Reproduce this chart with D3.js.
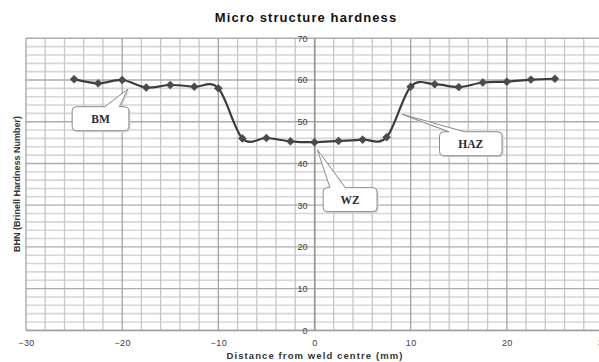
<!DOCTYPE html>
<html>
<head>
<meta charset="utf-8">
<script src="https://cdn.jsdelivr.net/npm/d3@7"></script>
<style>
  html, body { margin: 0; padding: 0; background: #fff; }
  svg { display: block; }
</style>
</head>
<body>
<svg id="chart" width="599" height="362"></svg>
<script>
// Distance from weld centre (mm) for each hardness reading
const distances = [-25, -22.5, -20, -17.5, -15, -12.5, -10, -7.5, -5, -2.5, 0,
                   2.5, 5, 7.5, 10, 12.5, 15, 17.5, 20, 22.5, 25];
// Brinell hardness number at each distance
const hardness = [60.2, 59.2, 60.0, 58.2, 58.8, 58.4, 58.0, 46.0, 46.1, 45.3, 45.1,
                  45.4, 45.7, 46.3, 58.4, 59.0, 58.3, 59.4, 59.6, 60.1, 60.3];

const xTicks = [-30, -20, -10, 0, 10, 20, 30];
const yTicks = [0, 10, 20, 30, 40, 50, 60, 70];

// Zone callouts: tip points at the curve, box placed in data units
const zoneLabels = ["BM", "HAZ", "WZ"];
const zoneTipX = [-19.4, 9.1, 0.3];
const zoneTipY = [57.8, 51.8, 43.3];
const zoneBoxX = [-25.2, 13.0, 0.9];   // left edge
const zoneBoxY = [53.6, 47.6, 34.2];   // top edge
const zoneBoxW = [5.9, 6.5, 5.6];      // width in mm
const zoneWedge = [[-21.8, -20.3], [14.0, 15.6], [1.6, 3.2]];

const FONT = "Arial, 'Liberation Sans', sans-serif";
const svg = d3.select("#chart");
const x = d3.scaleLinear().domain([-30, 30]).range([26, 603]);
const y = d3.scaleLinear().domain([0, 70]).range([330.3, 38.3]);

// Grid: minor every 2 units, major every 10
const g = svg.append("g");
const minorX = d3.range(-30, 31, 2).filter(v => v % 10 !== 0);
const minorY = d3.range(0, 71, 2).filter(v => v % 10 !== 0);
g.selectAll(".my").data(minorY).join("line")
  .attr("y1", d => y(d)).attr("y2", d => y(d))
  .attr("x1", x(-30)).attr("x2", x(30))
  .attr("stroke", "#d6d6d6").attr("stroke-width", 1.6);
g.selectAll(".mx").data(minorX).join("line")
  .attr("x1", d => x(d)).attr("x2", d => x(d))
  .attr("y1", y(0)).attr("y2", y(70))
  .attr("stroke", "#c6c6c6").attr("stroke-width", 1.3);
g.selectAll(".My").data(yTicks).join("line")
  .attr("y1", d => y(d)).attr("y2", d => y(d))
  .attr("x1", x(-30)).attr("x2", x(30))
  .attr("stroke", "#acacac").attr("stroke-width", 1.4);
g.selectAll(".Mx").data(xTicks).join("line")
  .attr("x1", d => x(d)).attr("x2", d => x(d))
  .attr("y1", y(0)).attr("y2", y(70))
  .attr("stroke", "#a4a4a4").attr("stroke-width", 1.3);

// Axes: y axis sits on x = 0
const yAxis = d3.axisLeft(y).tickValues(yTicks).tickSize(0).tickPadding(7);
svg.append("g").attr("transform", `translate(${x(0)},0)`).call(yAxis)
  .call(s => s.select(".domain").attr("stroke", "#888"))
  .selectAll("text").attr("font-family", FONT)
  .attr("font-size", 9).attr("fill", "#3a3a4a");

const xAxis = d3.axisBottom(x).tickValues(xTicks).tickSize(0).tickPadding(9);
svg.append("g").attr("transform", `translate(0,${y(0)})`).call(xAxis)
  .call(s => s.select(".domain").attr("stroke", "#999"))
  .selectAll("text").attr("font-family", FONT)
  .attr("font-size", 9).attr("letter-spacing", 0.4).attr("fill", "#3a3a4a");

// Titles
svg.append("text").attr("x", 306).attr("y", 22).attr("text-anchor", "middle")
  .attr("font-family", FONT).attr("font-weight", "bold")
  .attr("font-size", 13).attr("letter-spacing", 1.1).attr("fill", "#111")
  .text("Micro structure hardness");
svg.append("text").attr("x", 315).attr("y", 359).attr("text-anchor", "middle")
  .attr("font-family", FONT).attr("font-weight", "bold")
  .attr("font-size", 9.5).attr("letter-spacing", 1.1).attr("fill", "#333")
  .text("Distance from weld centre (mm)");
svg.append("text").attr("transform", "translate(20,184) rotate(-90)").attr("text-anchor", "middle")
  .attr("font-family", FONT).attr("font-weight", "bold")
  .attr("font-size", 9).attr("fill", "#333")
  .text("BHN (Brinell Hardness Number)");

// Hardness profile
const pts = distances.map((d, i) => [d, hardness[i]]);
const line = d3.line().x(d => x(d[0])).y(d => y(d[1])).curve(d3.curveCardinal.tension(0));
svg.append("path").attr("d", line(pts)).attr("fill", "none")
  .attr("stroke", "#3c3c3c").attr("stroke-width", 2.2);
const diamond = d3.symbolDiamond2 || d3.symbolDiamond;
svg.selectAll(".pt").data(pts).join("path")
  .attr("transform", d => `translate(${x(d[0])},${y(d[1])})`)
  .attr("d", d3.symbol(diamond, 40))
  .attr("fill", "#4a4a4a").attr("stroke", "#4a4a4a").attr("stroke-width", 0.6);

// Callout boxes
zoneLabels.forEach((lab, i) => {
  const bx = x(zoneBoxX[i]), by = y(zoneBoxY[i]);
  const bw = x(zoneBoxX[i] + zoneBoxW[i]) - bx, bh = 24, r = 4;
  const w0 = x(zoneWedge[i][0]), w1 = x(zoneWedge[i][1]);
  const tx = x(zoneTipX[i]), ty = y(zoneTipY[i]);
  const p = d3.path();
  p.moveTo(bx + r, by);
  p.lineTo(w0, by); p.lineTo(tx, ty); p.lineTo(w1, by);
  p.lineTo(bx + bw - r, by); p.quadraticCurveTo(bx + bw, by, bx + bw, by + r);
  p.lineTo(bx + bw, by + bh - r); p.quadraticCurveTo(bx + bw, by + bh, bx + bw - r, by + bh);
  p.lineTo(bx + r, by + bh); p.quadraticCurveTo(bx, by + bh, bx, by + bh - r);
  p.lineTo(bx, by + r); p.quadraticCurveTo(bx, by, bx + r, by);
  p.closePath();
  svg.append("path").attr("d", p.toString()).attr("transform", "translate(1.5,1.5)")
    .attr("fill", "#d8d8d8").attr("stroke", "none");
  svg.append("path").attr("d", p.toString()).attr("fill", "#fff")
    .attr("stroke", "#8a8a8a").attr("stroke-width", 1);
  svg.append("text").attr("x", bx + bw / 2).attr("y", by + bh / 2 + 4)
    .attr("text-anchor", "middle")
    .attr("font-family", "'Liberation Serif', 'Times New Roman', serif").attr("font-weight", "bold")
    .attr("font-size", 11.5).attr("fill", "#2b2b33").text(lab);
});
</script>
</body>
</html>
